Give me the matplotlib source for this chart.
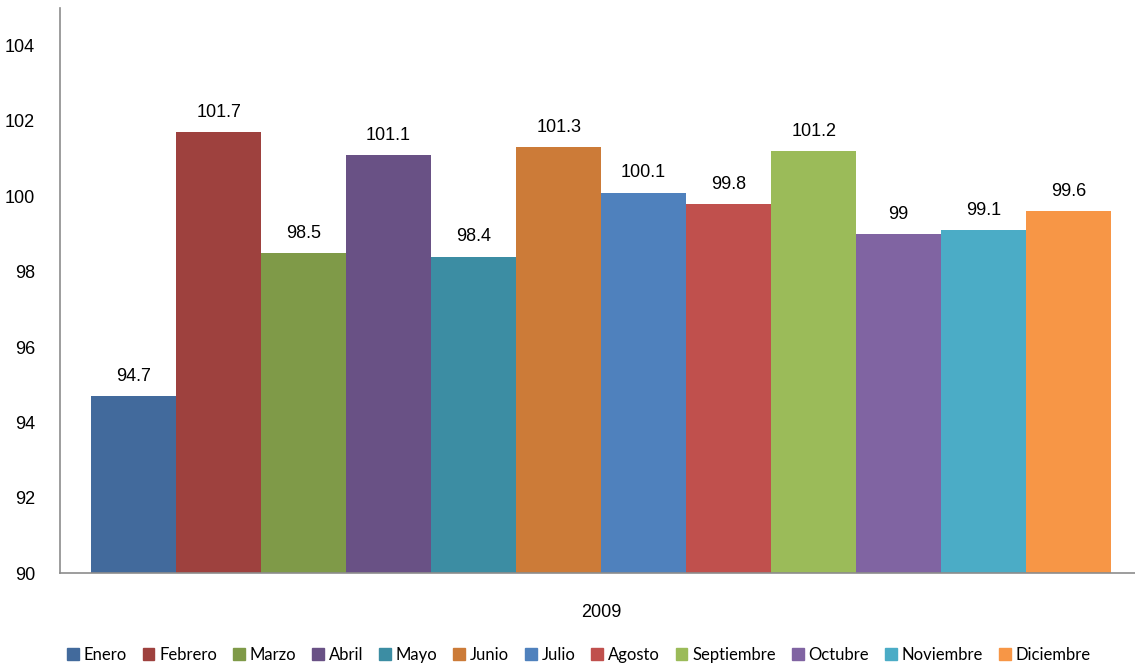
import matplotlib
matplotlib.use("Agg")
import matplotlib.pyplot as plt
from matplotlib.patches import Patch

# Datos
meses = ['Enero', 'Febrero', 'Marzo', 'Abril', 'Mayo', 'Junio', 'Julio',
         'Agosto', 'Septiembre', 'Octubre', 'Noviembre', 'Diciembre']
valores = [94.7, 101.7, 98.5, 101.1, 98.4, 101.3, 100.1, 99.8, 101.2, 99, 99.1, 99.6]
etiquetas = ['94.7', '101.7', '98.5', '101.1', '98.4', '101.3', '100.1', '99.8',
             '101.2', '99', '99.1', '99.6']
colores = ['#426A9C', '#9E413E', '#7F9A48', '#695185', '#3C8DA3', '#CC7B38',
           '#4F81BD', '#C0504D', '#9BBB59', '#8064A2', '#4BACC6', '#F79646']
anio = '2009'

plt.rcParams['font.family'] = ['Liberation Sans', 'DejaVu Sans']

fig = plt.figure(figsize=(11.35, 6.65), dpi=100)
ax = fig.add_axes([0.0529, 0.1383, 0.9471, 0.8497])

x = list(range(len(meses)))
bars = ax.bar(x, [v - 90 for v in valores], bottom=90, width=1.0, color=colores)
for xi, v, t in zip(x, valores, etiquetas):
    ax.text(xi, v + 0.3, t, ha='center', va='bottom', fontsize=13)

ax.set_ylim(90, 105)
ax.set_yticks(range(90, 105, 2))
ax.set_xlim(-0.865, 11.78)
ax.set_xticks([5.5])
ax.set_xticklabels([anio])
ax.tick_params(axis='both', length=0, labelsize=13)
ax.tick_params(axis='x', pad=22)
ax.tick_params(axis='y', pad=18)

for s in ['top', 'right']:
    ax.spines[s].set_visible(False)
for s in ['left', 'bottom']:
    ax.spines[s].set_color('#8C8C8C')
    ax.spines[s].set_linewidth(1.2)

handles = [Patch(color=c) for c in colores]
fig.legend(handles, meses, loc='center', bbox_to_anchor=(0.51, 0.015), ncol=12,
           frameon=False, handlelength=0.7, handleheight=0.7, handletextpad=0.3,
           columnspacing=0.95, prop={'family': 'Lato', 'size': 12})

fig.savefig('out.png', dpi=100)
